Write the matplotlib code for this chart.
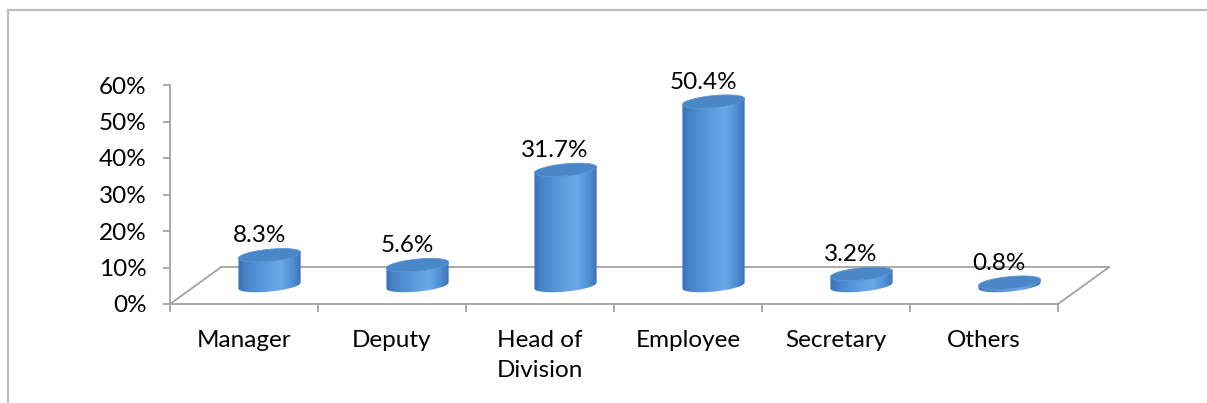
import numpy as np
import matplotlib
matplotlib.use("Agg")
import matplotlib.pyplot as plt
from matplotlib.patches import Polygon
from matplotlib.lines import Line2D
from matplotlib.colors import LinearSegmentedColormap

# ---- data -------------------------------------------------------------
categories = ["Manager", "Deputy", "Head of\nDivision", "Employee", "Secretary", "Others"]
values = [8.3, 5.6, 31.7, 50.4, 3.2, 0.8]          # percent
y_ticks = [0, 10, 20, 30, 40, 50, 60]
y_tick_labels = ["0%", "10%", "20%", "30%", "40%", "50%", "60%"]

# ---- styling ------------------------------------------------------------
plt.rcParams["font.family"] = ["Lato", "DejaVu Sans"]
FS = 17.5
AXIS_GRAY = "#A3A3A3"

W, H, DPI = 1207, 403, 100
fig = plt.figure(figsize=(W / DPI, H / DPI), dpi=DPI)
fig.patch.set_facecolor("white")

# outer chart-area frame (top and left edges visible)
fx, fy = 8 / W, 1 - 10 / H
fig.add_artist(Line2D([fx, fx], [0, fy], transform=fig.transFigure, color="#BEBEBE", lw=1.6))
fig.add_artist(Line2D([fx, 1], [fy, fy], transform=fig.transFigure, color="#BEBEBE", lw=1.6))

# front plane of the plot: x in category units, y in percent
ax = fig.add_axes([170 / W, (H - 304) / H, (1058 - 170) / W, (304 - 85) / H])
n = len(categories)
ax.set_xlim(0, n)
ax.set_ylim(0, 60)
ax.set_facecolor("none")

for s in ("top", "right"):
    ax.spines[s].set_visible(False)
for s in ("left", "bottom"):
    ax.spines[s].set_color(AXIS_GRAY)
    ax.spines[s].set_linewidth(1.3)

ax.set_yticks(y_ticks)
ax.set_yticklabels(y_tick_labels, fontsize=FS)
ax.tick_params(axis="y", length=5, width=1.3, color=AXIS_GRAY, pad=12)

ax.set_xticks(np.arange(n + 1))
ax.set_xticklabels([])
ax.set_xticks(np.arange(n) + 0.5, minor=True)
ax.set_xticklabels(categories, minor=True, fontsize=FS, linespacing=1.5, va="top")
ax.tick_params(axis="x", which="major", length=6, width=1.3, color=AXIS_GRAY)
ax.tick_params(axis="x", which="minor", length=0, pad=19)

# floor depth (perspective offset) in data units
DX, DY = 0.345, 10.1
floor_kw = dict(color=AXIS_GRAY, lw=1.3, clip_on=False, zorder=1)
ax.plot([0, DX], [0, DY], **floor_kw)
ax.plot([DX, n + DX], [DY, DY], **floor_kw)
ax.plot([n, n + DX], [0, DY], **floor_kw)

# ---- cylinders ----------------------------------------------------------
A = 0.21        # half width (categories)
B = 1.65        # ellipse half height (percent)
K = 0.8         # tilt of the end caps (percent)
body_cmap = LinearSegmentedColormap.from_list(
    "cyl",
    [(0.0, "#3670B4"), (0.12, "#4683C8"), (0.45, "#5C9BDD"),
     (0.68, "#69AAEA"), (0.88, "#4F8DD0"), (1.0, "#3A72B4")])
grad = np.linspace(0, 1, 256)[None, :]


def ellipse_pts(cx, cy, t):
    return np.column_stack([cx + A * np.cos(t), cy + B * np.sin(t) + K * np.cos(t)])


for i, v in enumerate(values):
    cx = i + 0.5 + DX / 2
    cy0 = DY / 2
    cy1 = cy0 + v

    t_front = np.linspace(0, -np.pi, 80)
    bottom = ellipse_pts(cx, cy0, t_front)
    body_pts = np.vstack([[[cx - A, cy1 - K], [cx + A, cy1 + K]], bottom])
    body = Polygon(body_pts, closed=True, facecolor="none", edgecolor="none", zorder=3)
    ax.add_patch(body)
    img = ax.imshow(grad, cmap=body_cmap, aspect="auto", interpolation="bilinear",
                    extent=[cx - A, cx + A, cy0 - B - K - 0.5, cy1 + B + K],
                    zorder=3)
    img.set_clip_path(body)

    top = Polygon(ellipse_pts(cx, cy1, np.linspace(0, 2 * np.pi, 120)), closed=True,
                  facecolor="#4B86C7", edgecolor="#5A95D5", lw=0.6, zorder=4)
    ax.add_patch(top)

    ax.text(cx - 0.07, cy1 + 5.3, f"{v}%", ha="center", va="center",
            fontsize=FS, color="black", zorder=5)

ax.set_xlim(0, n)
ax.set_ylim(0, 60)

fig.savefig("out.png", dpi=DPI, facecolor="white")
